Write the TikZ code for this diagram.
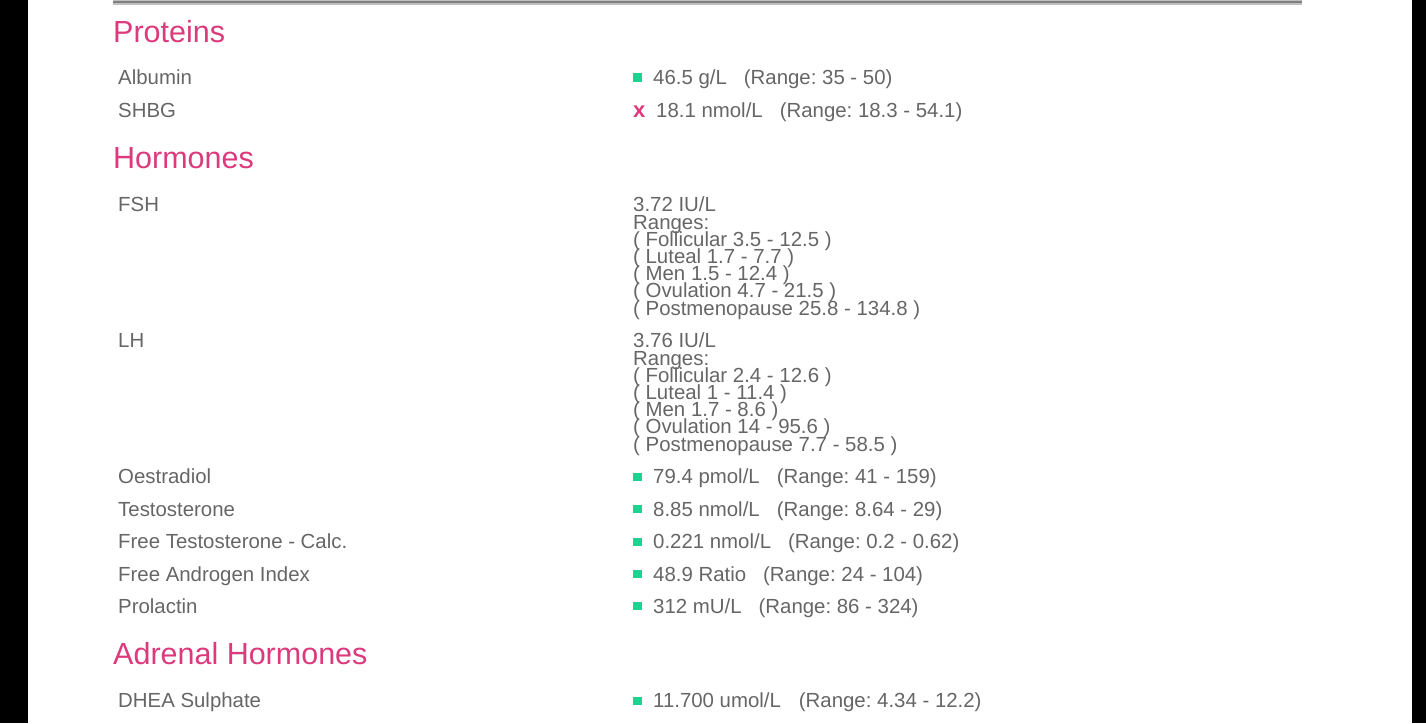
\documentclass[tikz,border=0pt]{standalone}
\usepackage{fontspec}
\setmainfont{Liberation Sans}
\definecolor{headpink}{HTML}{DC3A7C}
\definecolor{okgreen}{HTML}{1FD28F}
\definecolor{bodygray}{HTML}{666666}
\setlength{\lineskiplimit}{-100pt}
\tikzset{
  heading/.style={anchor=base west,inner sep=0pt,text=headpink,font=\fontsize{30.5}{30}\selectfont},
  testname/.style={anchor=base west,inner sep=0pt,text=bodygray,font=\fontsize{20.4}{20}\selectfont\frenchspacing},
  testvalue/.style={testname},
  rangeblock/.style={anchor=north west,inner sep=0pt,align=left,text=bodygray,font=\fontsize{20.4}{17.2}\selectfont\frenchspacing},
  okmark/.style={fill=okgreen,draw=none,inner sep=0pt,minimum size=8.5pt,anchor=center},
  badmark/.style={anchor=base west,inner sep=0pt,text=headpink,font=\fontsize{22}{22}\selectfont\bfseries},
}
\begin{document}
\begin{tikzpicture}[x=1pt,y=-1pt]
\useasboundingbox (0,0) rectangle (1426,723);
\fill[black] (0,0) rectangle (1426,723);
\fill[white] (28,0) rectangle (1412,723);
\fill[gray!50] (113,0) rectangle (1302,4.5);
\fill[gray] (113,0.5) rectangle (1302,3);

%headings
\node[heading] (proteins) at (113,42) {Proteins};
\node[heading] (hormones) at (113,168) {Hormones};
\node[heading] (adrenal) at (113,664) {Adrenal Hormones};

%left column
\node[testname] (albumin) at (118,84) {Albumin};
\node[testname] (shbg) at (118,117) {SHBG};
\node[testname] (fsh) at (118,211) {FSH};
\node[testname] (lh) at (118,347) {LH};
\node[testname] (oestradiol) at (118,483) {Oestradiol};
\node[testname] (testosterone) at (118,516) {Testosterone};
\node[testname] (freetest) at (118,548) {Free Testosterone - Calc.};
\node[testname] (androgen) at (118,581) {Free Androgen Index};
\node[testname] (prolactin) at (118,613) {Prolactin};
\node[testname] (dhea) at (118,707) {DHEA Sulphate};

%right column
\node[okmark] (albuminok) at (637.5,77.5) {};
\node[testvalue] (albuminval) at (653,84) {46.5 g/L\hspace{17pt}(Range: 35 - 50)};
\node[badmark] (shbgbad) at (633,117) {x};
\node[testvalue] (shbgval) at (656,117) {18.1 nmol/L\hspace{17pt}(Range: 18.3 - 54.1)};

\node[rangeblock] (fshval) at (633,197) {3.72 IU/L\\Ranges:\\( Follicular 3.5 - 12.5 )\\( Luteal 1.7 - 7.7 )\\( Men 1.5 - 12.4 )\\( Ovulation 4.7 - 21.5 )\\( Postmenopause 25.8 - 134.8 )};
\node[rangeblock] (lhval) at (633,333) {3.76 IU/L\\Ranges:\\( Follicular 2.4 - 12.6 )\\( Luteal 1 - 11.4 )\\( Men 1.7 - 8.6 )\\( Ovulation 14 - 95.6 )\\( Postmenopause 7.7 - 58.5 )};

\node[okmark] (oestradiolok) at (637.5,477) {};
\node[testvalue] (oestradiolval) at (653,483) {79.4 pmol/L\hspace{17pt}(Range: 41 - 159)};
\node[okmark] (testosteroneok) at (637.5,509) {};
\node[testvalue] (testosteroneval) at (653,516) {8.85 nmol/L\hspace{17pt}(Range: 8.64 - 29)};
\node[okmark] (freetestok) at (637.5,542) {};
\node[testvalue] (freetestval) at (653,548) {0.221 nmol/L\hspace{17pt}(Range: 0.2 - 0.62)};
\node[okmark] (androgenok) at (637.5,574) {};
\node[testvalue] (androgenval) at (653,581) {48.9 Ratio\hspace{17pt}(Range: 24 - 104)};
\node[okmark] (prolactinok) at (637.5,606) {};
\node[testvalue] (prolactinval) at (653,613) {312 mU/L\hspace{17pt}(Range: 86 - 324)};
\node[okmark] (dheaok) at (637.5,701) {};
\node[testvalue] (dheaval) at (653,707) {11.700 umol/L\hspace{18pt}(Range: 4.34 - 12.2)};
\end{tikzpicture}
\end{document}
